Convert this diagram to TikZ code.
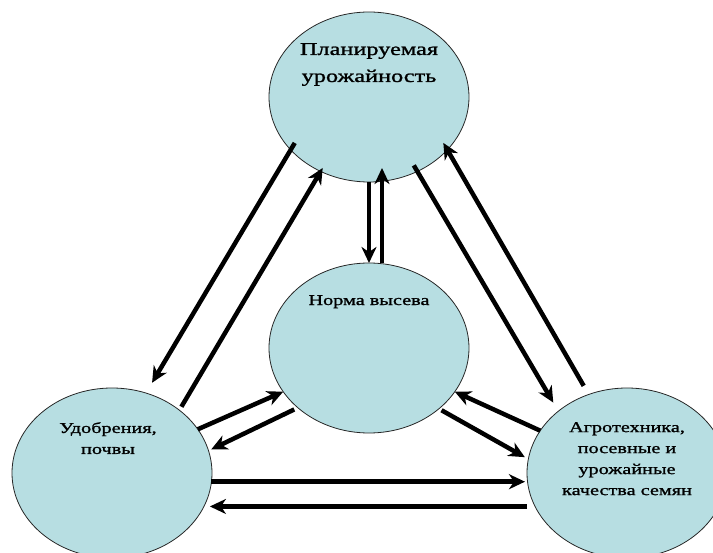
\documentclass[tikz,border=0pt]{standalone}
\usepackage{fontspec}
\newfontfamily\rusfont[FakeStretch=1.35,FakeBold=1.2]{Liberation Serif}
\usetikzlibrary{positioning,shapes.geometric,arrows.meta}
\definecolor{blobfill}{RGB}{183,222,226}

\begin{document}
\begin{tikzpicture}[x=1pt, y=-1pt,
				blob/.style={ellipse, minimum width=200pt, minimum height=170pt, draw=black!85, line width=0.8pt, fill=blobfill, inner sep=0, outer sep=0},
				txt/.style={align=center, inner sep=0, font=\rusfont\fontsize{15}{21}\selectfont}]
				
				\useasboundingbox (0,0) rectangle (713,553);
				\clip (0,0) rectangle (713,553);
				
				\node [blob] (plan) at (369,97) {};
				\node [blob] (norma) at (369,348) {};
				\node [blob] (udob) at (112,473) {};
				\node [blob] (agro) at (627,473) {};
				
				\node [txt,below=31pt of plan.north,font=\rusfont\fontsize{18}{27}\selectfont] (plan-t) {Планируемая\\урожайность};
				\node [txt,below=32pt of norma.north] (norma-t) {Норма высева};
				\node [txt,below=34pt of udob.north,xshift=-4pt] (udob-t) {Удобрения,\\почвы};
				\node [txt,below=34pt of agro.north] (agro-t) {Агротехника,\\посевные и\\урожайные\\качества семян};
				
				\begin{scope}[-{Stealth[length=16pt,width=15pt,inset=5pt]}, line width=4.5pt]
				\draw[shorten <=-8pt, shorten >=12pt] (plan.214) -- (udob.67);
				\draw[shorten <=4pt, shorten >=-4pt] (udob.43) -- (plan.237);
				\draw (plan.south) -- (norma.north);
				\draw[shorten >=-14pt] ([xshift=13pt]norma.north) -- ([xshift=13pt]plan.south);
				\draw[shorten <=-7pt, shorten >=10pt] (plan.303) -- (agro.138);
				\draw[shorten <=10pt, shorten >=-8pt] (agro.116) -- (plan.326);
				\draw (udob.27) -- (norma.207);
				\draw[shorten <=4pt, shorten >=3pt] (norma.220) -- (udob.13);
				\draw[shorten <=3pt, shorten >=4pt] (norma.319) -- (agro.172);
				\draw (agro.154) -- (norma.333);
				\draw[shorten >=2pt] (udob.355) -- (udob.355 -| agro.west);
				\draw[shorten >=6pt] (agro.west |- udob.340) -- (udob.340);
				\end{scope}
\end{tikzpicture}
\end{document}
